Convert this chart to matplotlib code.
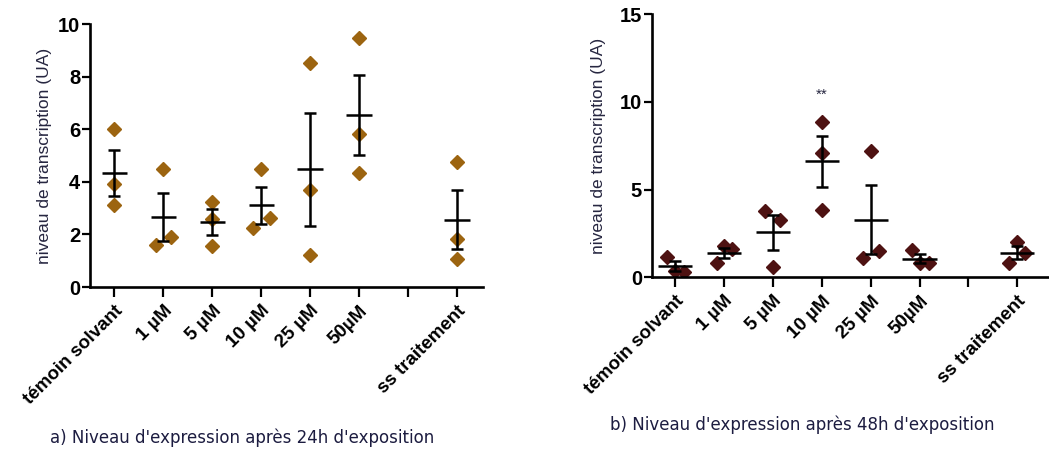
import numpy as np
import matplotlib
matplotlib.use("Agg")
import matplotlib.pyplot as plt

# groupes (la position 6 reste vide, comme sur l'original)
groupes = ["témoin solvant", "1 µM", "5 µM", "10 µM", "25 µM", "50µM", "ss traitement"]
positions = [0, 1, 2, 3, 4, 5, 7]

# valeurs individuelles (3 réplicats par groupe)
val_24h = [
    [6.0, 3.9, 3.1],
    [4.5, 1.6, 1.9],
    [3.25, 2.6, 1.55],
    [4.5, 2.23, 2.61],
    [8.5, 3.69, 1.22],
    [9.48, 5.82, 4.35],
    [4.75, 1.83, 1.07],
]
val_48h = [
    [1.18, 0.38, 0.32],
    [0.80, 1.78, 1.59],
    [3.80, 3.27, 0.61],
    [8.87, 7.10, 3.84],
    [7.21, 1.12, 1.50],
    [1.56, 0.80, 0.80],
    [2.03, 0.80, 1.37],
]
# décalage horizontal des points qui se chevauchent
decal_24h = [
    [0, 0, 0], [0, -0.16, 0.16], [0, 0, 0], [0, -0.17, 0.17],
    [0, 0, 0], [0, 0, 0], [0, 0, 0],
]
decal_48h = [
    [-0.17, 0, 0.18], [-0.15, 0, 0.17], [-0.16, 0.15, 0], [0, 0, 0],
    [0, -0.16, 0.17], [-0.15, 0, 0.19], [0, -0.16, 0.15],
]

plt.rcParams['font.family'] = ['Liberation Sans', 'DejaVu Sans']

fig = plt.figure(figsize=(10.49, 4.53), dpi=100)
ax1 = fig.add_axes([0.0858, 0.3664, 0.3746, 0.5806])
ax2 = fig.add_axes([0.6213, 0.3879, 0.3787, 0.5811])


def tracer(ax, valeurs, decal, couleur, demi_larg, ylim, yticks, xlim, lpad):
    for p, v, d in zip(positions, valeurs, decal):
        v = np.array(v)
        ax.plot(p + np.array(d), v, 'D', ms=7, color=couleur, mec=couleur, zorder=2)
        m = v.mean()
        sem = v.std(ddof=1) / np.sqrt(len(v))
        ax.errorbar(p, m, yerr=sem, fmt='none', ecolor='black', elinewidth=1.8,
                    capsize=4.3, capthick=1.8, zorder=3)
        ax.hlines(m, p - demi_larg, p + demi_larg, color='black', lw=1.8, zorder=3)
    ax.set_xlim(*xlim)
    ax.set_ylim(*ylim)
    ax.set_yticks(yticks)
    ax.set_xticks(range(8))
    labels = [''] * 8
    for p, g in zip(positions, groupes):
        labels[p] = g
    ax.set_xticklabels(labels, rotation=45, ha='right', rotation_mode='anchor',
                       fontsize=13.5, fontweight='bold')
    for lab in ax.get_yticklabels():
        lab.set_fontsize(14.5)
        lab.set_fontweight('bold')
    for s in ['top', 'right']:
        ax.spines[s].set_visible(False)
    for s in ['left', 'bottom']:
        ax.spines[s].set_linewidth(1.9)
    ax.tick_params(axis='x', length=7, width=1.6, pad=4)
    ax.tick_params(axis='y', length=6, width=1.6, pad=1)
    ax.set_ylabel("niveau de transcription (UA)", fontsize=12.5, color='#262640', labelpad=lpad)


tracer(ax1, val_24h, decal_24h, '#9c6410', 0.26, (0, 10), [0, 2, 4, 6, 8, 10], (-0.5, 7.53), 4)
tracer(ax2, val_48h, decal_48h, '#4e1212', 0.35, (0, 15), [0, 5, 10, 15], (-0.48, 7.65), 10)
ax2.text(3, 10.4, "**", ha='center', va='center', fontsize=11, color='#262640')

fig.text(0.231, 0.022, "a) Niveau d'expression après 24h d'exposition", ha='center',
         fontsize=12, family='DejaVu Sans', color='#1c1c40')
fig.text(0.765, 0.05, "b) Niveau d'expression après 48h d'exposition", ha='center',
         fontsize=12, family='DejaVu Sans', color='#1c1c40')

fig.savefig("out.png", dpi=100)
